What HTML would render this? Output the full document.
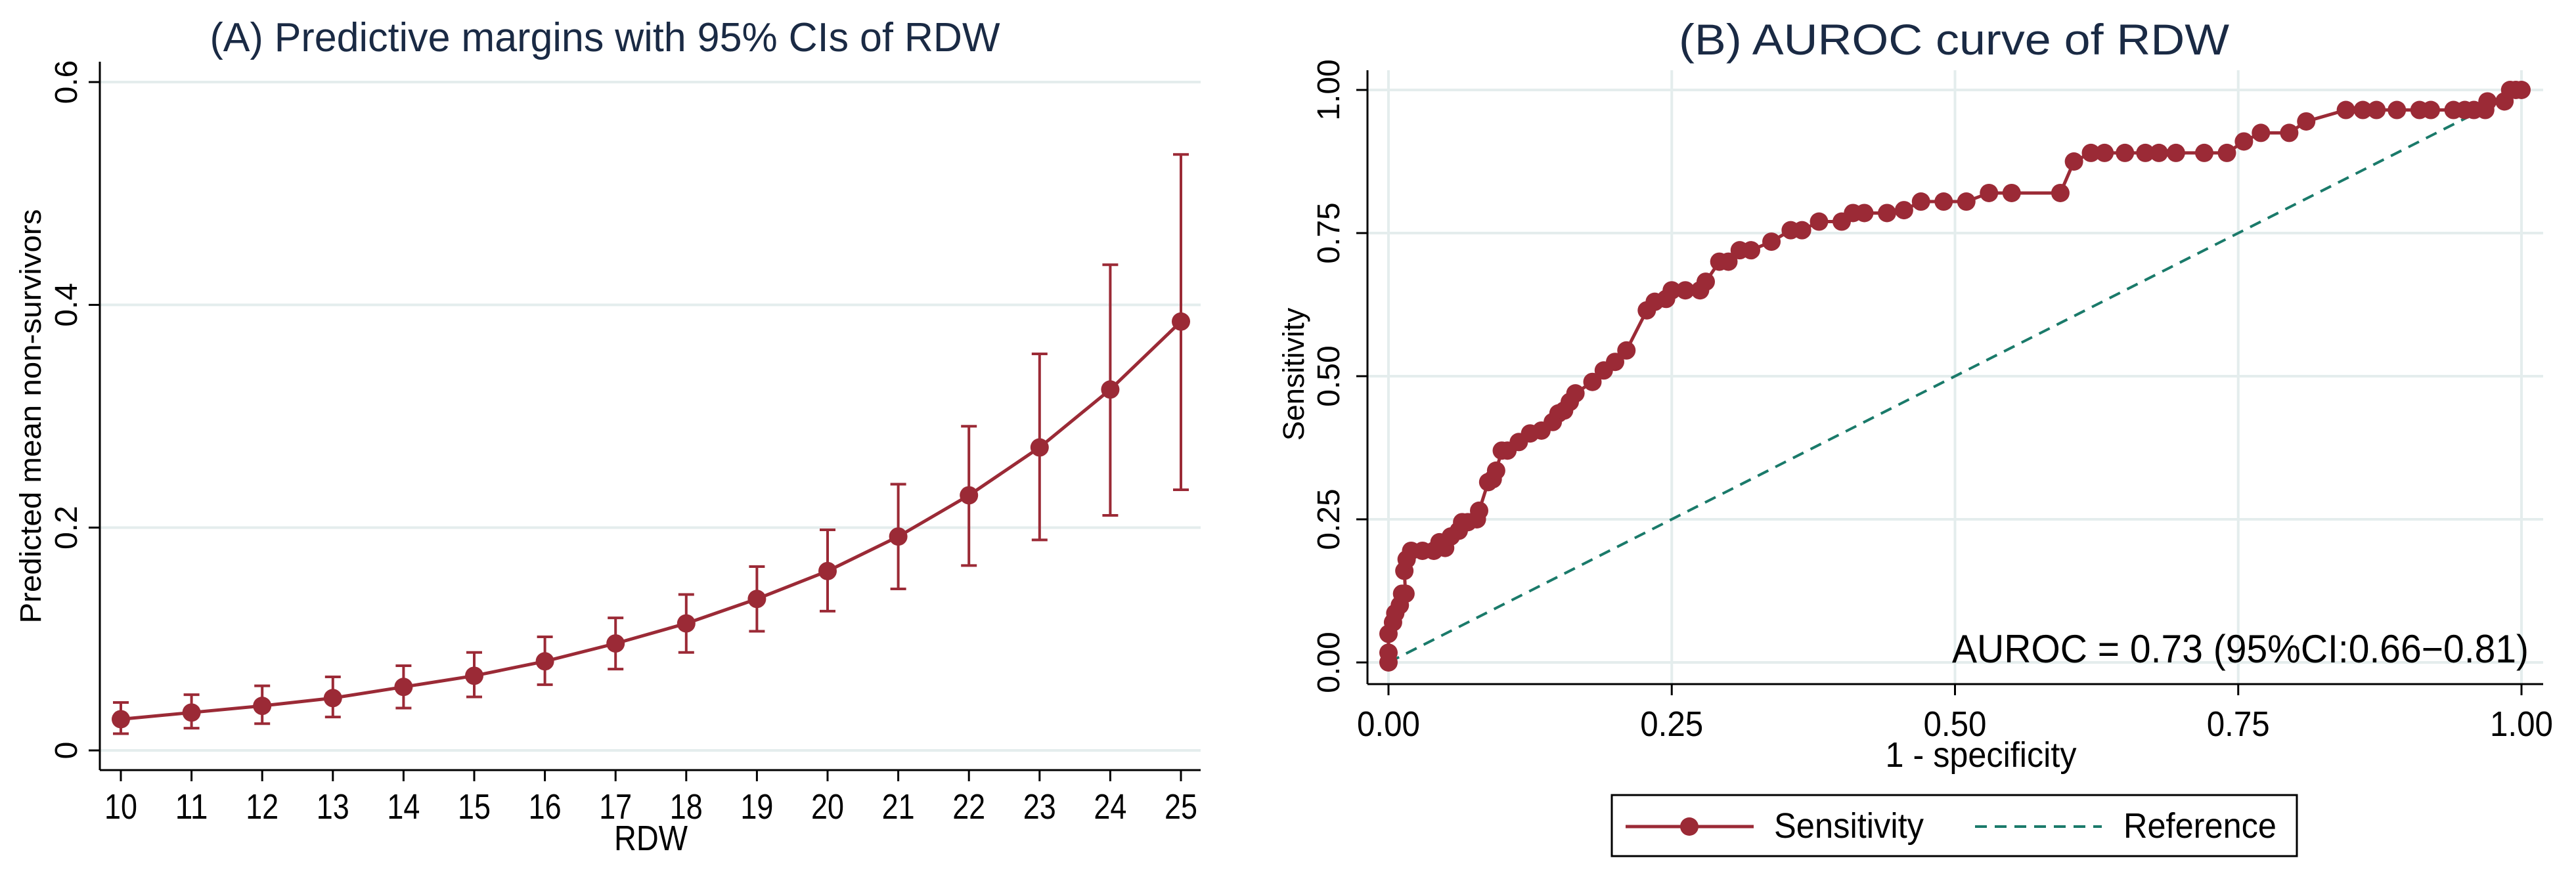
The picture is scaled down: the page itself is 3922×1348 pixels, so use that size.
<!DOCTYPE html>
<html><head><meta charset="utf-8"><style>
html,body{margin:0;padding:0;background:#fff;}
svg{display:block;}
text{font-family:"Liberation Sans",sans-serif;fill:#000;}
</style></head><body>
<svg id="c" width="3922" height="1348" viewBox="0 0 3922 1348" xmlns="http://www.w3.org/2000/svg">
<rect width="3922" height="1348" fill="#fff"/>
<g id="pa"></g>
<g id="pb"></g>
</svg>
<script>
// Panel A data
const rdw = [10,11,12,13,14,15,16,17,18,19,20,21,22,23,24,25];
const margin = [0.028,0.034,0.040,0.047,0.057,0.067,0.080,0.096,0.114,0.136,0.161,0.192,0.229,0.272,0.324,0.385];
const ciLow = [0.015,0.020,0.024,0.030,0.038,0.048,0.059,0.073,0.088,0.107,0.125,0.145,0.166,0.189,0.211,0.234];
const ciHigh = [0.043,0.050,0.058,0.066,0.076,0.088,0.102,0.119,0.140,0.165,0.198,0.239,0.291,0.356,0.436,0.535];
const aYTicks = [0,0.2,0.4,0.6];
const aYTickLabels = ["0","0.2","0.4","0.6"];
// Panel B data
const fpr = [0,0,0,0.004,0.006,0.01,0.012,0.015,0.014,0.016,0.02,0.03,0.04,0.045,0.05,0.055,0.062,0.065,0.07,0.078,0.08,0.088,0.092,0.095,0.1,0.105,0.115,0.125,0.135,0.145,0.15,0.155,0.16,0.165,0.18,0.19,0.2,0.21,0.228,0.235,0.245,0.25,0.262,0.275,0.28,0.292,0.3,0.31,0.32,0.338,0.355,0.365,0.38,0.4,0.41,0.42,0.44,0.455,0.47,0.49,0.51,0.53,0.55,0.593,0.605,0.62,0.632,0.65,0.668,0.68,0.695,0.72,0.74,0.755,0.77,0.795,0.81,0.845,0.86,0.872,0.89,0.91,0.92,0.94,0.95,0.958,0.968,0.97,0.985,0.99,0.995,1];
const sens = [0,0.017,0.05,0.07,0.086,0.1,0.12,0.12,0.16,0.18,0.195,0.195,0.195,0.21,0.2,0.22,0.23,0.245,0.245,0.25,0.265,0.315,0.32,0.335,0.37,0.37,0.385,0.4,0.405,0.42,0.435,0.44,0.455,0.47,0.49,0.51,0.525,0.545,0.615,0.63,0.635,0.65,0.65,0.65,0.665,0.7,0.7,0.72,0.72,0.735,0.755,0.755,0.77,0.77,0.785,0.785,0.785,0.79,0.805,0.805,0.805,0.82,0.82,0.82,0.875,0.89,0.89,0.89,0.89,0.89,0.89,0.89,0.89,0.91,0.925,0.925,0.945,0.965,0.965,0.965,0.965,0.965,0.965,0.965,0.965,0.965,0.965,0.98,0.98,1,1,1];
const bTicks = [0,0.25,0.5,0.75,1];
const bTickLabels = ["0.00","0.25","0.50","0.75","1.00"];

const NS="http://www.w3.org/2000/svg";
const RED="#9b2a36", TEAL="#1a7a6a", GRID="#e4eded";
function mk(parent,tag,attrs,txt){const e=document.createElementNS(NS,tag);for(const k in attrs)e.setAttribute(k,attrs[k]);if(txt!==undefined)e.textContent=txt;parent.appendChild(e);return e;}

// ---------- Panel A ----------
const A=document.getElementById('pa');
const ax=v=>184+(v-10)*(1798-184)/15;
const ay=v=>1143-v*(1143-125)/0.6;
aYTicks.forEach((t,i)=>{
  const g=mk(A,'line',{x1:152,x2:1828,y1:ay(t),y2:ay(t),stroke:GRID,'stroke-width':4});
  
  
  mk(A,'line',{x1:135,x2:152,y1:ay(t),y2:ay(t),stroke:'#000','stroke-width':3});
  const tx=mk(A,'text',{x:0,y:0,'font-size':48,'text-anchor':'middle',transform:`translate(117,${ay(t)}) rotate(-90)`},aYTickLabels[i]);
  
  
});
mk(A,'line',{x1:152,x2:152,y1:94,y2:1173,stroke:'#000','stroke-width':3,});
mk(A,'line',{x1:152,x2:1828,y1:1173,y2:1173,stroke:'#000','stroke-width':3,});
rdw.forEach(v=>{
  mk(A,'line',{x1:ax(v),x2:ax(v),y1:1173,y2:1190,stroke:'#000','stroke-width':3});
  const tx=mk(A,'text',{x:ax(v),y:1247,'font-size':54,'text-anchor':'middle',textLength:50,lengthAdjust:'spacingAndGlyphs'},String(v));
  
  
});
rdw.forEach((v,i)=>{
  const x=ax(v);
  const g=mk(A,'g',{});
  
  
  mk(g,'line',{x1:x,x2:x,y1:ay(ciLow[i]),y2:ay(ciHigh[i]),stroke:RED,'stroke-width':4});
  mk(g,'line',{x1:x-12,x2:x+12,y1:ay(ciLow[i]),y2:ay(ciLow[i]),stroke:RED,'stroke-width':4});
  mk(g,'line',{x1:x-12,x2:x+12,y1:ay(ciHigh[i]),y2:ay(ciHigh[i]),stroke:RED,'stroke-width':4});
});
const aLine=mk(A,'polyline',{points:rdw.map((v,i)=>ax(v)+','+ay(margin[i])).join(' '),fill:'none',stroke:RED,'stroke-width':5});


rdw.forEach((v,i)=>{
  const c=mk(A,'circle',{cx:ax(v),cy:ay(margin[i]),r:14,fill:RED});
  
  
});
mk(A,'text',{x:921,y:78,'font-size':62,'text-anchor':'middle',textLength:1203,lengthAdjust:'spacingAndGlyphs',style:'fill:#1a2a44',},'(A) Predictive margins with 95% CIs of RDW');
mk(A,'text',{x:991,y:1295,'font-size':54,'text-anchor':'middle',textLength:112,lengthAdjust:'spacingAndGlyphs',},'RDW');
mk(A,'text',{x:0,y:0,'font-size':45,'text-anchor':'middle',transform:'translate(62,634) rotate(-90)',textLength:631,lengthAdjust:'spacingAndGlyphs',},'Predicted mean non-survivors');

// ---------- Panel B ----------
const B=document.getElementById('pb');
const bx=v=>2114+v*(3839-2114);
const by=v=>1009-v*(1009-137);
bTicks.forEach((t,i)=>{
  const h=mk(B,'line',{x1:2082,x2:3872,y1:by(t),y2:by(t),stroke:GRID,'stroke-width':4});
  
  
  const v=mk(B,'line',{x1:bx(t),x2:bx(t),y1:107,y2:1042,stroke:GRID,'stroke-width':4});
  
  
});
bTicks.forEach((t,i)=>{
  mk(B,'line',{x1:2065,x2:2082,y1:by(t),y2:by(t),stroke:'#000','stroke-width':3});
  mk(B,'line',{x1:bx(t),x2:bx(t),y1:1042,y2:1059,stroke:'#000','stroke-width':3});
  const ty=mk(B,'text',{x:0,y:0,'font-size':48,'text-anchor':'middle',transform:`translate(2039,${by(t)}) rotate(-90)`},bTickLabels[i]);
  
  
  const tx=mk(B,'text',{x:bx(t),y:1121,'font-size':54,'text-anchor':'middle',textLength:96,lengthAdjust:'spacingAndGlyphs'},bTickLabels[i]);
  
  
});
mk(B,'line',{x1:2082,x2:2082,y1:107,y2:1042,stroke:'#000','stroke-width':3,});
mk(B,'line',{x1:2082,x2:3872,y1:1042,y2:1042,stroke:'#000','stroke-width':3,});
const ref=mk(B,'line',{x1:bx(0),y1:by(0),x2:bx(1),y2:by(1),stroke:TEAL,'stroke-width':4,'stroke-dasharray':'18 12'});


const roc=mk(B,'polyline',{points:fpr.map((v,i)=>bx(v)+','+by(sens[i])).join(' '),fill:'none',stroke:RED,'stroke-width':5});


fpr.forEach((v,i)=>{
  const c=mk(B,'circle',{cx:bx(v),cy:by(sens[i]),r:14,fill:RED});
  
  
});
mk(B,'text',{x:3850,y:1009,'font-size':60,'text-anchor':'end',textLength:878,lengthAdjust:'spacingAndGlyphs',},'AUROC = 0.73 (95%CI:0.66\u22120.81)');
mk(B,'text',{x:2975,y:83,'font-size':66,'text-anchor':'middle',textLength:838,lengthAdjust:'spacingAndGlyphs',style:'fill:#1a2a44',},'(B) AUROC curve of RDW');
mk(B,'text',{x:3016,y:1168,'font-size':54,'text-anchor':'middle',textLength:291,lengthAdjust:'spacingAndGlyphs',},'1 - specificity');
mk(B,'text',{x:0,y:0,'font-size':45,'text-anchor':'middle',transform:'translate(1985,570) rotate(-90)',},'Sensitivity');
// legend
const L=mk(B,'g',{});
mk(L,'rect',{x:2454,y:1211,width:1043,height:93,fill:'#fff',stroke:'#000','stroke-width':3});
const l1=mk(L,'g',{});


mk(l1,'line',{x1:2475,x2:2670,y1:1259,y2:1259,stroke:RED,'stroke-width':5});
mk(l1,'circle',{cx:2572,cy:1259,r:14,fill:RED});
mk(l1,'text',{x:2701,y:1276,'font-size':54,textLength:228,lengthAdjust:'spacingAndGlyphs'},'Sensitivity');
const l2=mk(L,'g',{});


mk(l2,'line',{x1:3007,x2:3200,y1:1259,y2:1259,stroke:TEAL,'stroke-width':4,'stroke-dasharray':'18 12'});
mk(l2,'text',{x:3233,y:1276,'font-size':54,textLength:233,lengthAdjust:'spacingAndGlyphs'},'Reference');
</script>
</body></html>
